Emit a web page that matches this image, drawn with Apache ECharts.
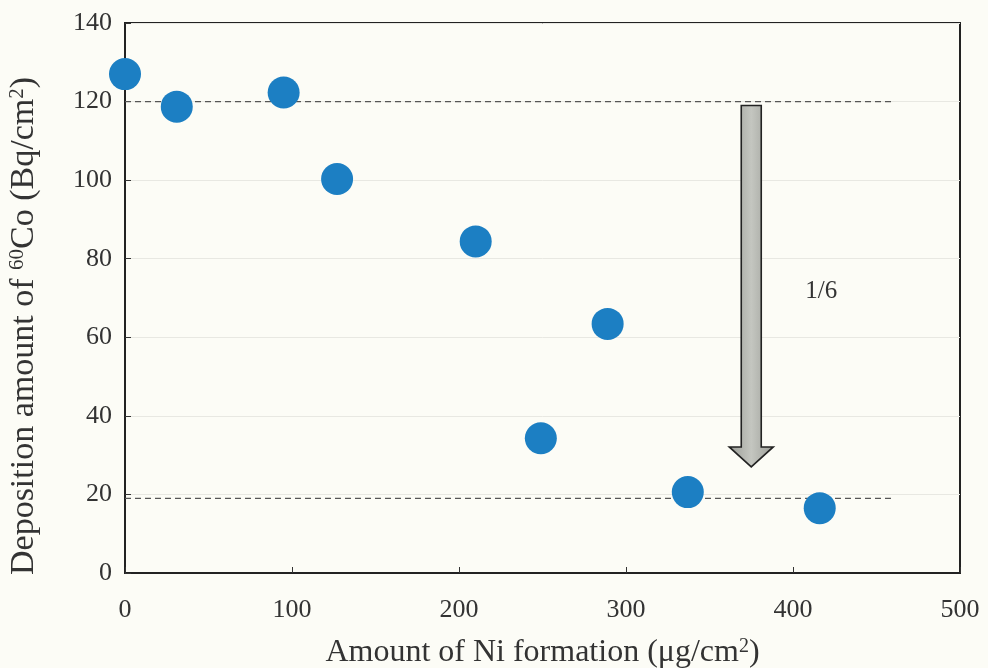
<!DOCTYPE html>
<html><head><meta charset="utf-8">
<script src="https://cdn.jsdelivr.net/npm/echarts@6/dist/echarts.min.js"></script>
<style>html,body{margin:0;padding:0;background:#fcfcf6;}#c{width:988px;height:668px;}</style>
</head><body><div id="c"></div>
<script>
var niAmount = [0, 31, 95, 127, 210, 249, 289, 337, 416];
var coDeposition = [127, 118.7, 122.3, 100.3, 84.4, 34.3, 63.4, 20.6, 16.5];
var refLineHigh = [[0, 120], [460, 120]];
var refLineLow = [[0, 19], [460, 19]];
var arrowData = [[375, 119, 27]];
var arrowLabel = '1/6';
var xTicks = [0, 100, 200, 300, 400, 500];
var yTicks = [0, 20, 40, 60, 80, 100, 120, 140];

var font = '"Liberation Serif", "DejaVu Serif", serif';
var chart = echarts.init(document.getElementById('c'));
chart.setOption({
  backgroundColor: '#fcfcf6',
  animation: false,
  grid: {left: 125, right: 28, top: 23, bottom: 95, containLabel: false, outerBoundsMode: 'none',
    show: true, borderColor: '#222', borderWidth: 2, backgroundColor: 'transparent'},
  xAxis: {
    type: 'value', min: 0, max: 500, interval: 100,
    name: '{a|Amount of Ni formation (μg/cm}{s|2}{a|)}', nameLocation: 'middle', nameGap: 64,
    nameTextStyle: {fontFamily: font, fontSize: 32, color: '#333',
      rich: {a: {fontFamily: font, fontSize: 32, color: '#333'}, s: {fontFamily: font, fontSize: 20, color: '#333', padding: [0, 0, 12, 0]}}},
    axisLine: {show: true, lineStyle: {color: '#222', width: 2}},
    axisTick: {show: true, inside: true, length: 6, lineStyle: {color: '#333'}},
    axisLabel: {fontFamily: font, fontSize: 26, color: '#333', margin: 24},
    splitLine: {show: false}
  },
  yAxis: {
    type: 'value', min: 0, max: 140, interval: 20,
    name: '{a|Deposition amount of }{s|60}{a|Co (Bq/cm}{s|2}{a|)}', nameLocation: 'middle', nameGap: 84,
    nameTextStyle: {fontFamily: font, fontSize: 34, color: '#333', padding: [0, 56, 0, 0],
      rich: {a: {fontFamily: font, fontSize: 34, color: '#333'}, s: {fontFamily: font, fontSize: 21, color: '#333', padding: [0, 0, 13, 0]}}},
    axisLine: {show: true, lineStyle: {color: '#222', width: 2}},
    axisTick: {show: true, inside: true, length: 6, lineStyle: {color: '#333'}},
    axisLabel: {fontFamily: font, fontSize: 26, color: '#333', margin: 13},
    splitLine: {show: true, lineStyle: {color: '#e8e8e2', width: 1}}
  },
  series: [
    {type: 'line', data: refLineHigh, symbol: 'none', silent: true,
     lineStyle: {color: '#555', width: 1.2, type: [6, 4]}},
    {type: 'line', data: refLineLow, symbol: 'none', silent: true,
     lineStyle: {color: '#555', width: 1.2, type: [6, 4]}},
    {type: 'custom', data: arrowData, silent: true,
     renderItem: function (params, api) {
       var top = api.coord([api.value(0), api.value(1)]);
       var bot = api.coord([api.value(0), api.value(2)]);
       var cx = top[0], hw = 10, hh = 22, headH = 20;
       var shaftEnd = bot[1] - headH;
       return {
         type: 'group',
         children: [
           {type: 'polygon', shape: {points: [
             [cx - hw, top[1]], [cx + hw, top[1]], [cx + hw, shaftEnd], [cx + hh, shaftEnd],
             [cx, bot[1]], [cx - hh, shaftEnd], [cx - hw, shaftEnd]
           ]}, style: {fill: new echarts.graphic.LinearGradient(0, 0, 1, 0, [
             {offset: 0, color: '#9a9c96'}, {offset: 0.5, color: '#c4c6c0'}, {offset: 1, color: '#9a9c96'}]),
             stroke: '#222', lineWidth: 1.6}},
           {type: 'text', x: cx + 70, y: (top[1] + bot[1]) / 2 + 5,
            style: {text: arrowLabel, font: '25px ' + font, fill: '#333', align: 'center', verticalAlign: 'middle'}}
         ]
       };
     }},
    {type: 'scatter', data: niAmount.map(function (x, i) { return [x, coDeposition[i]]; }),
     symbolSize: 32, itemStyle: {color: '#1c7fc3', opacity: 1}, z: 5}
  ]
});
</script></body></html>
